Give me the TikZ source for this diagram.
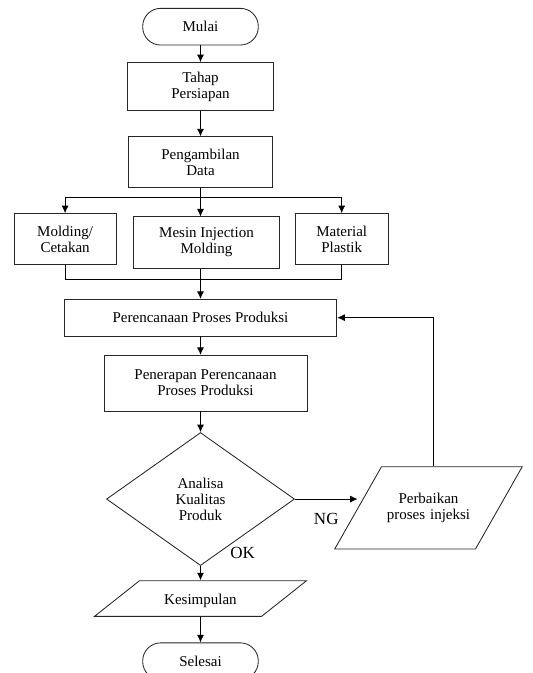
\documentclass[tikz,border=0pt]{standalone}
\usepackage{fontspec}
\setmainfont{Liberation Serif}
\usepackage{tikz}
\usetikzlibrary{arrows.meta,positioning,shapes.geometric}
\tikzstyle{every node}=[font=\fontsize{15}{16}\selectfont,align=center]
\tikzstyle{termbox}=[rectangle,
                     rounded corners=18pt,
                     draw=black!85,
                     minimum width=115.6pt,
                     minimum height=36.7pt]
\tikzstyle{procbox}=[rectangle,
                     draw=black!85,
                     inner sep=2pt]
\tikzstyle{decbox}=[diamond,
                    draw=black!85,
                    aspect=1.42,
                    minimum width=188pt,
                    minimum height=133pt,
                    inner sep=0pt]
\tikzstyle{iobox}=[trapezium,
                   draw=black!85,
                   inner ysep=0pt]
\tikzstyle{answer}=[font=\fontsize{17}{18}\selectfont]

\begin{document}
\begin{tikzpicture}[line width=0.85pt,>={Latex[length=7.5pt,width=7pt]}]
\useasboundingbox (-200.5pt,26.7pt) rectangle (332.5pt,-646.3pt);
\node (mulai)    [termbox] {Mulai};
\node (tahap)    [procbox,minimum width=146.7pt,minimum height=48.3pt,below=16.7pt of mulai] {Tahap\\Persiapan};
\node (ambil)    [procbox,minimum width=144pt,minimum height=50.7pt,below=25pt of tahap] {Pengambilan\\Data};
\coordinate[below=9.3pt of ambil] (cabang);
\node (mesin)    [procbox,minimum width=146pt,minimum height=51.3pt,below=28.6pt of ambil,xshift=6pt] {Mesin Injection\\Molding};
\node (cetakan)  [procbox,minimum width=101.7pt,minimum height=51.3pt,left=16.7pt of mesin,yshift=3.3pt] {Molding/\\Cetakan};
\node (plastik)  [procbox,minimum width=92.7pt,minimum height=51.3pt,right=15pt of mesin,yshift=3.3pt] {Material\\Plastik};
\node (rencana)  [procbox,minimum width=272.7pt,minimum height=36.7pt,below=111pt of ambil] {Perencanaan Proses Produksi};
\coordinate[above=19pt of rencana] (gabung);
\node (terap)    [procbox,minimum width=203pt,minimum height=55.7pt,below=18.4pt of rencana,xshift=5pt] {Penerapan Perencanaan\\Proses Produksi};
\node (analisa)  [decbox,below=95.7pt of rencana] {Analisa\\Kualitas\\Produk};
\node (perbaikan)[iobox,trapezium left angle=60.4,trapezium right angle=119.6,
                  text width=86pt,inner xsep=4pt,text height=36.3pt,text depth=46pt,
                  right=62.7pt of analisa,yshift=-8.8pt] {Perbaikan\\proses injeksi};
\node (simpul)   [iobox,trapezium left angle=38.4,trapezium right angle=141.6,
                  text width=100pt,inner xsep=11pt,text height=24pt,text depth=11.7pt,
                  below=14.3pt of analisa] {Kesimpulan};
\node (selesai)  [termbox,below=25.6pt of simpul] {Selesai};
\node (ok)       [answer,above right=4pt and 26pt of analisa.south] {OK};
 \path[->] (mulai) edge (tahap);
 \path[->] (tahap) edge (ambil);
 \draw (ambil) -- (cabang);
 \draw[->] (cabang) -| (cetakan);
 \draw[->] (cabang) -| (plastik);
 \draw[->] (cabang) -- (cabang |- mesin.north);
 \draw (cetakan) |- (gabung) -| (plastik);
 \draw[->] (gabung |- mesin.south) -- (rencana);
 \draw[->] (rencana) -- (rencana |- terap.north);
 \draw[->] (terap.south -| analisa) -- (analisa);
 \draw[->] (analisa.east) -- (analisa.east -| perbaikan.west)
   node (ng) [answer,midway,below=10pt] {NG};
 \draw[->] ([xshift=5pt]perbaikan.north -| perbaikan.center) |- (rencana.east);
 \path[->] (analisa) edge (simpul);
 \path[->] (simpul) edge (selesai);
\end{tikzpicture}
\end{document}
